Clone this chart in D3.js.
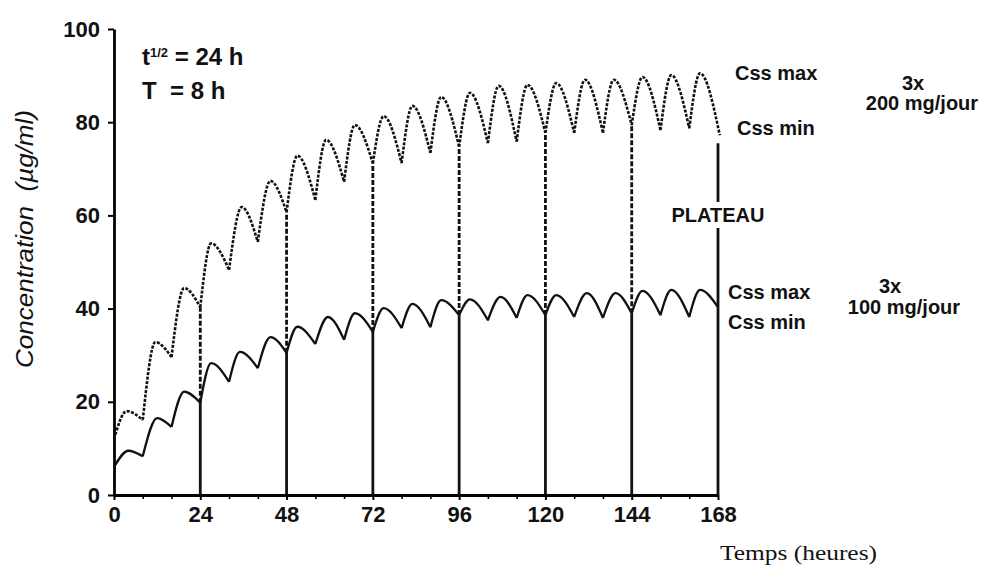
<!DOCTYPE html>
<html>
<head>
<meta charset="utf-8">
<script src="https://cdn.jsdelivr.net/npm/d3@7/dist/d3.min.js"></script>
<style>
	body { margin: 0; background: #fff; }
	text { font-family: "Liberation Sans", Arial, sans-serif; fill: #111; }
</style>
</head>
<body>
<div id="chart"></div>
<script>
// [time (h), concentration (ug/ml)] : trough at each dose, peak in between
var dose200 = [
	[0,12.0],[3.5,18.0],[8,16.1],[11.5,32.8],[16,29.6],[19.5,44.4],[24,40.3],
	[27,54.0],[32,48.3],[35.5,61.8],[40,54.3],[43.5,67.4],[48,60.7],
	[51,72.8],[56,63.3],[59,76.2],[64,67.2],[67,79.4],[72,71.2],
	[75,81.3],[80,71.2],[83,83.5],[88,73.4],[91,85.4],[96,74.7],
	[99,86.3],[104,75.5],[107,87.8],[112,75.8],[115,88.0],[120,77.7],
	[123,88.4],[128,77.7],[131,89.1],[136,77.7],[139,89.1],[144,79.4],
	[147,89.7],[152,78.3],[155,90.1],[160,78.7],[163,90.5],[168.5,77.2]
];
var dose100 = [
	[0,6.0],[4,9.5],[8,8.3],[12,16.5],[16,14.6],[19.5,22.2],[24,19.8],
	[27,28.3],[32,24.3],[35,30.7],[40,27.2],[43.5,33.9],[48,30.5],
	[51,36.1],[56,32.4],[59.5,38.2],[64,33.3],[67,39.0],[72,35.0],
	[75,40.1],[80,35.8],[83,41.0],[88,36.0],[91,41.8],[96,38.6],
	[99,42.0],[104,37.5],[107.5,42.5],[112,38.0],[115,42.9],[120,38.6],
	[123,42.9],[128,38.2],[131.5,43.3],[136,38.0],[139.5,43.3],[144,39.0],
	[147,43.8],[152,38.6],[155,44.0],[160,38.2],[163,44.0],[168,40.3]
];
var x_ticks = [0, 24, 48, 72, 96, 120, 144, 168];
var x_minor = [8, 16, 32, 40, 56, 64, 80, 88, 104, 112, 128, 136, 152, 160];
var y_ticks = [0, 20, 40, 60, 80, 100];
var day_marks = [24, 48, 72, 96, 120, 144];
var plateau_mark = [168, 75.5];

var width = 985, height = 567;

var svg = d3.select('#chart').append('svg')
	.attr('width', width)
	.attr('height', height)
	.style('background', '#fff');

var xScale = d3.scaleLinear().domain([0, 168]).range([114, 718]);
var yScale = d3.scaleLinear().domain([0, 100]).range([495, 29]);

function value_at(data, t) {
	var p = data.find(function(d){ return d[0] === t; });
	return p ? p[1] : 0;
}

// axes
var yAxis = svg.append('g')
	.attr('transform', `translate(${xScale(0)},0)`)
	.call(d3.axisLeft(yScale).tickValues(y_ticks).tickSize(6).tickSizeOuter(0).tickPadding(8));
yAxis.select('.domain').attr('stroke-width', 2.8);
yAxis.selectAll('.tick line').attr('stroke-width', 2);
yAxis.selectAll('text')
	.style('font-size', '22px').style('font-weight', 'bold');

var xAxisMinor = svg.append('g')
	.attr('transform', `translate(0,${yScale(0)})`)
	.call(d3.axisBottom(xScale).tickValues(x_minor).tickSize(4).tickFormat(''));
xAxisMinor.select('.domain').remove();
xAxisMinor.selectAll('.tick line').attr('stroke-width', 1.6);

var xAxis = svg.append('g')
	.attr('transform', `translate(0,${yScale(0)})`)
	.call(d3.axisBottom(xScale).tickValues(x_ticks).tickSize(5).tickSizeOuter(0).tickPadding(6));
xAxis.select('.domain').attr('stroke-width', 3.2);
xAxis.selectAll('.tick line').attr('stroke-width', 2);
xAxis.selectAll('text')
	.style('font-size', '22px').style('font-weight', 'bold');

// vertical markers: solid up to the 100 mg curve, dashed up to the 200 mg curve
svg.selectAll('line.solidmark')
	.data(day_marks)
	.enter().append('line')
	.attr('class', 'solidmark')
	.attr('x1', function(d){ return xScale(d); })
	.attr('x2', function(d){ return xScale(d); })
	.attr('y1', yScale(0))
	.attr('y2', function(d){ return yScale(value_at(dose100, d)); })
	.attr('stroke', '#111')
	.attr('stroke-width', 2.8);

svg.selectAll('line.dashmark')
	.data(day_marks)
	.enter().append('line')
	.attr('class', 'dashmark')
	.attr('x1', function(d){ return xScale(d); })
	.attr('x2', function(d){ return xScale(d); })
	.attr('y1', function(d){ return yScale(value_at(dose100, d)); })
	.attr('y2', function(d){ return yScale(value_at(dose200, d)); })
	.attr('stroke', '#111')
	.attr('stroke-width', 2.8)
	.attr('stroke-dasharray', '5,2');

svg.append('line')
	.attr('x1', xScale(plateau_mark[0]))
	.attr('x2', xScale(plateau_mark[0]))
	.attr('y1', yScale(0))
	.attr('y2', yScale(plateau_mark[1]))
	.attr('stroke', '#111')
	.attr('stroke-width', 2.8);

// curves, one arch per dosing interval so the troughs stay sharp
function arches(data) {
	var segs = [];
	for (var i = 0; i + 2 < data.length; i += 2)
		segs.push(data.slice(i, i + 3));
	return segs;
}
var line = d3.line()
	.x(function(d){ return xScale(d[0]); })
	.y(function(d){ return yScale(d[1]); })
	.curve(d3.curveMonotoneX);

svg.append('path')
	.attr('d', arches(dose100).map(line).join(''))
	.attr('fill', 'none')
	.attr('stroke', '#111')
	.attr('stroke-width', 2.3);

svg.append('path')
	.attr('d', arches(dose200).map(line).join(''))
	.attr('fill', 'none')
	.attr('stroke', '#111')
	.attr('stroke-width', 2.6)
	.attr('stroke-dasharray', '3,1.5');

// PLATEAU label sits on the 168 h line
var plat = svg.append('g');
var plat_txt = plat.append('text')
	.attr('x', xScale(168))
	.attr('y', 222)
	.attr('text-anchor', 'middle')
	.style('font-size', '20px').style('font-weight', 'bold')
	.text('PLATEAU');
var bb = plat_txt.node().getBBox();
plat.insert('rect', 'text')
	.attr('x', bb.x - 2).attr('y', bb.y - 2)
	.attr('width', bb.width + 4).attr('height', bb.height + 4)
	.attr('fill', '#fff');

// annotations
var t_half = svg.append('text')
	.attr('x', 142).attr('y', 65)
	.style('font-size', '24px').style('font-weight', 'bold');
t_half.append('tspan').text('t');
t_half.append('tspan').attr('dy', -8).style('font-size', '13px').text('1/2');
t_half.append('tspan').attr('dy', 8).text(' = 24 h');

svg.append('text')
	.attr('x', 142).attr('y', 99)
	.style('font-size', '24px').style('font-weight', 'bold')
	.attr('xml:space', 'preserve')
	.text('T  = 8 h');

var labels = [
	{ txt: 'Css max', x: 735, y: 80, anchor: 'start' },
	{ txt: 'Css min', x: 737, y: 135, anchor: 'start' },
	{ txt: '3x', x: 913, y: 90, anchor: 'middle' },
	{ txt: '200 mg/jour', x: 922, y: 110, anchor: 'middle' },
	{ txt: 'Css max', x: 728, y: 299, anchor: 'start' },
	{ txt: 'Css min', x: 728, y: 329, anchor: 'start' },
	{ txt: '3x', x: 890, y: 293, anchor: 'middle' },
	{ txt: '100 mg/jour', x: 904, y: 314, anchor: 'middle' }
];
svg.selectAll('text.lbl')
	.data(labels)
	.enter().append('text')
	.attr('class', 'lbl')
	.attr('x', function(d){ return d.x; })
	.attr('y', function(d){ return d.y; })
	.attr('text-anchor', function(d){ return d.anchor; })
	.style('font-size', '20px').style('font-weight', 'bold')
	.text(function(d){ return d.txt; });

// axis titles
svg.append('text')
	.attr('transform', 'translate(33,239) rotate(-90)')
	.attr('text-anchor', 'middle')
	.attr('xml:space', 'preserve')
	.attr('textLength', 258)
	.attr('lengthAdjust', 'spacingAndGlyphs')
	.style('font-size', '23px').style('font-style', 'italic')
	.text('Concentration  (µg/ml)');

svg.append('text')
	.attr('x', 720).attr('y', 560)
	.attr('textLength', 157)
	.attr('lengthAdjust', 'spacingAndGlyphs')
	.style('font-family', '"Liberation Serif", "Times New Roman", serif')
	.style('font-size', '22px')
	.text('Temps (heures)');
</script>
</body>
</html>
